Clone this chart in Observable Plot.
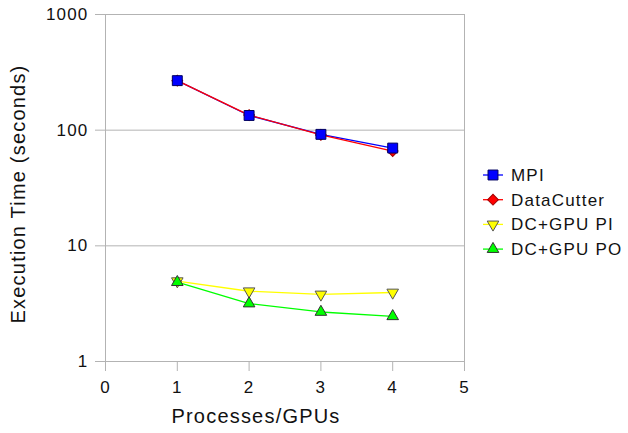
<!DOCTYPE html>
<html>
<head>
<meta charset="utf-8">
<script src="https://cdn.jsdelivr.net/npm/d3@7"></script>
<script src="https://cdn.jsdelivr.net/npm/@observablehq/plot@0.6"></script>
<style>
  html, body { margin: 0; padding: 0; background: #fff; }
  #chart { position: relative; width: 628px; height: 433px; }
  svg text { letter-spacing: 1.2px; }
</style>
</head>
<body>
<div id="chart"></div>
<script>
const processes = [1, 2, 3, 4];
const seriesNames = ["MPI", "DataCutter", "DC+GPU PI", "DC+GPU PO"];
const mpiTimes = [268, 134, 92, 70];
const dataCutterTimes = [268, 135, 91, 66];
const gpuPITimes = [4.95, 4.05, 3.8, 3.95];
const gpuPOTimes = [4.85, 3.17, 2.68, 2.46];
const xTicks = [0, 1, 2, 3, 4, 5];
const yTicks = [1, 10, 100, 1000];
const xTitle = "Processes/GPUs";
const yTitle = "Execution Time (seconds)";

const seriesValues = [mpiTimes, dataCutterTimes, gpuPITimes, gpuPOTimes];
const styles = {
  "MPI": {stroke: "#0000ff", fill: "#0000ff", mark: "#000060", symbol: "square", r: 5.6, rotate: 0},
  "DataCutter": {stroke: "#ff0000", fill: "#ff0000", mark: "#a00000", symbol: "square", r: 4.3, rotate: 45},
  "DC+GPU PI": {stroke: "#ffff00", fill: "#ffff00", mark: "#555555", symbol: "triangle", r: 4.3, rotate: 180},
  "DC+GPU PO": {stroke: "#00ff00", fill: "#00ff00", mark: "#333333", symbol: "triangle", r: 4.3, rotate: 0}
};
const rows = [];
seriesNames.forEach((s, i) => processes.forEach((p, j) => rows.push({series: s, x: p, y: seriesValues[i][j]})));

const marks = [
  Plot.ruleY(yTicks, {stroke: "#b3b3b3", strokeWidth: 1}),
  Plot.ruleX([xTicks[0]], {stroke: "#b3b3b3"}),
  Plot.ruleX([xTicks[xTicks.length - 1]], {stroke: "#b3b3b3"}),
  Plot.axisY({ticks: yTicks, tickFormat: d => String(d), tickSize: 10, tickPadding: 7, stroke: "#b3b3b3", fill: "#111", label: null, fontSize: 17}),
  Plot.axisX({ticks: xTicks, tickFormat: d => String(d), tickSize: 10, tickPadding: 9, stroke: "#b3b3b3", fill: "#111", label: null, fontSize: 17}),
  Plot.text([yTitle], {frameAnchor: "left", text: d => d, rotate: -90, textAnchor: "middle", dx: -87, dy: 6, fontSize: 20, fill: "#111"}),
  Plot.text([xTitle], {frameAnchor: "bottom", text: d => d, textAnchor: "middle", dx: -29, dy: 61, fontSize: 20, fill: "#111"})
];
for (const s of seriesNames) {
  const st = styles[s];
  const data = rows.filter(d => d.series === s);
  marks.push(Plot.line(data, {x: "x", y: "y", stroke: st.stroke, strokeWidth: 1.3}));
}
for (const s of ["DC+GPU PI", "DC+GPU PO", "DataCutter", "MPI"]) {
  const st = styles[s];
  const data = rows.filter(d => d.series === s);
  marks.push(Plot.dot(data, {x: "x", y: "y", symbol: () => st.symbol, r: st.r, fill: st.fill, stroke: st.mark, strokeWidth: 1, rotate: st.rotate}));
}

const chart = Plot.plot({
  width: 628, height: 433,
  marginLeft: 105, marginRight: 164, marginTop: 14, marginBottom: 72,
  style: {fontFamily: "Liberation Sans, Arial, sans-serif", fontSize: "17px", background: "#fff", color: "#111"},
  x: {domain: [xTicks[0], xTicks[xTicks.length - 1]]},
  y: {type: "log", domain: [yTicks[0], yTicks[yTicks.length - 1]]},
  symbol: {type: "identity"},
  marks
});
document.getElementById("chart").appendChild(chart);

// Legend (drawn into the same SVG)
const svg = d3.select(chart);
const lg = svg.append("g").attr("font-family", "Liberation Sans, Arial, sans-serif").attr("font-size", 17).attr("text-anchor", "start");
const symMap = {square: d3.symbolSquare, diamond: d3.symbolDiamond, triangle: d3.symbolTriangle};
seriesNames.forEach((s, i) => {
  const st = styles[s];
  const cy = 175 + i * 24.7;
  const g = lg.append("g").attr("transform", `translate(0,${cy})`);
  g.append("line").attr("x1", 483).attr("x2", 503).attr("y1", 0).attr("y2", 0).attr("stroke", st.stroke).attr("stroke-width", 1.3);
  g.append("path")
    .attr("d", d3.symbol(symMap[st.symbol], Math.PI * st.r * st.r)())
    .attr("transform", `translate(493,0) rotate(${st.rotate})`)
    .attr("fill", st.fill).attr("stroke", st.mark).attr("stroke-width", 1);
  g.append("text").attr("x", 511).attr("y", 0).attr("dy", "0.35em").attr("text-anchor", "start").attr("fill", "#111").text(s);
});
</script>
</body>
</html>
